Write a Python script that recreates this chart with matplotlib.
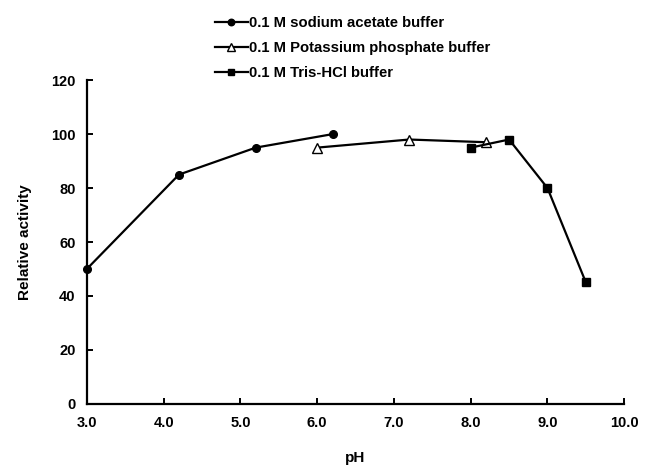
import matplotlib
matplotlib.use('Agg')
import matplotlib.pyplot as plt

plt.rcParams['font.family'] = 'Liberation Sans'
plt.rcParams['font.weight'] = 'bold'

# Data
ph_acetate = [3.0, 4.2, 5.2, 6.2]
act_acetate = [50, 85, 95, 100]
ph_phosphate = [6.0, 7.2, 8.2]
act_phosphate = [95, 98, 97]
ph_tris = [8.0, 8.5, 9.0, 9.5]
act_tris = [95, 98, 80, 45]

fig = plt.figure(figsize=(6.53, 4.69), dpi=100)
ax = fig.add_axes([0.133, 0.139, 0.823, 0.690])

ax.plot(ph_acetate, act_acetate, '-o', color='black', lw=1.6, ms=5.5,
        label='0.1 M sodium acetate buffer', clip_on=False, zorder=3)
ax.plot(ph_phosphate, act_phosphate, '-^', color='black', lw=1.6, ms=7,
        mfc='white', mew=1, label='0.1 M Potassium phosphate buffer', zorder=3)
ax.plot(ph_tris, act_tris, '-s', color='black', lw=1.6, ms=5.5,
        label='0.1 M Tris-HCl buffer', zorder=3)

ax.set_xlim(3.0, 10.0)
ax.set_ylim(0, 120)
ax.set_xticks([3, 4, 5, 6, 7, 8, 9, 10])
ax.set_xticklabels(['3.0', '4.0', '5.0', '6.0', '7.0', '8.0', '9.0', '10.0'])
ax.set_yticks(range(0, 121, 20))
ax.tick_params(direction='in', length=4, width=1.4, labelsize=10.5)
ax.tick_params(axis='x', pad=9)
ax.tick_params(axis='y', pad=8)
for s in ['top', 'right']:
    ax.spines[s].set_visible(False)
for s in ['left', 'bottom']:
    ax.spines[s].set_linewidth(1.6)

ax.set_xlabel('pH', fontsize=11, fontweight='bold', labelpad=15)
ax.set_ylabel('Relative activity', fontsize=11, fontweight='bold', labelpad=14)

fig.legend(loc='upper left', bbox_to_anchor=(215 / 653, 1 - 16 / 469),
           frameon=False, fontsize=10.7, handlelength=2.2, handletextpad=0.1,
           labelspacing=0.75, borderpad=0, borderaxespad=0, markerscale=0.85)

fig.savefig('out.png', dpi=100)
